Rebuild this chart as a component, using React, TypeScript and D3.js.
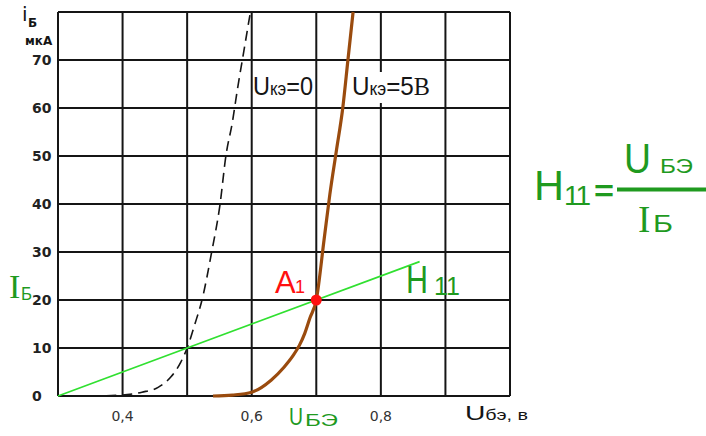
import React from "react";
import * as d3 from "d3";

// Input characteristic of a bipolar transistor: base current vs base-emitter voltage
const uGrid = [0.3, 0.4, 0.5, 0.6, 0.7, 0.8, 0.9, 1.0];
const iGrid = [0, 10, 20, 30, 40, 50, 60, 70, 80];
const iTickValues = [0, 10, 20, 30, 40, 50, 60, 70];
const uTickValues = [0.4, 0.6, 0.8];
const uTickLabels = ["0,4", "0,6", "0,8"];

// Uкэ = 0 (dashed curve)
const u0 = [0.35, 0.4, 0.43, 0.455, 0.475, 0.49, 0.5, 0.512, 0.523, 0.538, 0.551, 0.56, 0.57, 0.578, 0.588, 0.598];
const i0 = [0, 0.2, 0.8, 1.8, 4, 7, 10, 15, 20, 30, 40, 50, 57, 64, 72, 80];

// Uкэ = 5 В (brown curve)
const u5 = [0.54, 0.57, 0.6, 0.63, 0.65, 0.664, 0.674, 0.682, 0.69, 0.7, 0.712, 0.721, 0.731, 0.741, 0.749, 0.757];
const i5 = [0, 0.2, 0.8, 3.3, 6, 8.4, 10.6, 13, 16.2, 20, 32.5, 42, 51, 60, 70, 80];

// H11 secant through the operating point
const uH = [0.3, 0.86];
const iH = [0, 28];

// Operating point A1
const pointA = { u: 0.7, i: 20 };

const W = 706;
const H = 436;
const SANS = "'Liberation Sans', Arial, sans-serif";
const SERIF = "'Liberation Serif', 'Times New Roman', serif";
const DEJAVU = "'DejaVu Sans', sans-serif";
const GREEN_TEXT = "#1f9a1f";
const GREEN_LINE = "#30e030";
const BROWN = "#9a4b0e";
const INK = "#151515";

export default function App() {
  const x = d3.scaleLinear().domain([0.3, 1.0]).range([58, 510]);
  const y = d3.scaleLinear().domain([0, 80]).range([396, 12]);

  const line = d3
    .line<[number, number]>()
    .x((d) => x(d[0]))
    .y((d) => y(d[1]))
    .curve(d3.curveMonotoneX);
  const straight = d3
    .line<[number, number]>()
    .x((d) => x(d[0]))
    .y((d) => y(d[1]));

  const dashedPath = line(u0.map((u, k) => [u, i0[k]] as [number, number])) || "";
  const brownPath = line(u5.map((u, k) => [u, i5[k]] as [number, number])) || "";
  const hPath = straight(uH.map((u, k) => [u, iH[k]] as [number, number])) || "";

  return (
    <svg
      width={W}
      height={H}
      viewBox={`0 0 ${W} ${H}`}
      style={{ position: "absolute", left: 0, top: 0, background: "#fff" }}
    >
      <rect x={0} y={0} width={W} height={H} fill="#fff" />

      {/* grid */}
      <g stroke={INK} strokeWidth={2}>
        {uGrid.map((u) => (
          <line key={"v" + u} x1={x(u)} x2={x(u)} y1={y(0)} y2={y(80)} />
        ))}
        {iGrid.map((v) => (
          <line key={"h" + v} x1={x(0.3)} x2={x(1.0)} y1={y(v)} y2={y(v)} />
        ))}
      </g>

      {/* label backing for Uкэ=5В */}
      <rect x={350} y={72} width={83} height={31} fill="#fff" />

      {/* curves */}
      <path d={dashedPath} fill="none" stroke={INK} strokeWidth={1.6} strokeDasharray="10,6" />
      <path d={hPath} fill="none" stroke={GREEN_LINE} strokeWidth={1.7} />
      <path d={brownPath} fill="none" stroke={BROWN} strokeWidth={3.2} strokeLinejoin="round" />
      <circle cx={x(pointA.u)} cy={y(pointA.i)} r={5.5} fill="#ff1010" />

      {/* y tick labels */}
      <g fontFamily={DEJAVU} fontWeight="bold" fontSize={14} fill="#222">
        {iTickValues.map((v) => (
          <text key={"yt" + v} x={32} y={y(v)} dy="0.36em">
            {v}
          </text>
        ))}
      </g>

      {/* x tick labels */}
      <g fontFamily={DEJAVU} fontSize={14} fill="#333" textAnchor="middle">
        {uTickValues.map((u, k) => (
          <text key={"xt" + u} x={x(u)} y={421}>
            {uTickLabels[k]}
          </text>
        ))}
      </g>

      {/* axis titles */}
      <text x={22} y={21} fontFamily={DEJAVU} fontSize={20} fill={INK}>
        i
      </text>
      <text x={28} y={27} fontFamily={DEJAVU} fontWeight="bold" fontSize={12} fill={INK}>
        Б
      </text>
      <text x={25} y={45} fontFamily={DEJAVU} fontWeight="bold" fontSize={12} fill={INK}>
        мкА
      </text>
      <text x={465} y={420} fontFamily={SANS} fill={INK} textLength={63} lengthAdjust="spacingAndGlyphs">
        <tspan fontSize={20}>U</tspan>
        <tspan fontSize={14}>бэ,  в</tspan>
      </text>

      {/* curve labels */}
      <text x={253} y={95} fontFamily={SANS} fill={INK} textLength={60} lengthAdjust="spacingAndGlyphs">
        <tspan fontSize={25}>U</tspan>
        <tspan fontSize={18}>кэ</tspan>
        <tspan fontSize={25}>=0</tspan>
      </text>
      <text x={352} y={95} fontFamily={SANS} fill={INK} textLength={78} lengthAdjust="spacingAndGlyphs">
        <tspan fontSize={25}>U</tspan>
        <tspan fontSize={18}>кэ</tspan>
        <tspan fontSize={25}>=5</tspan>
        <tspan fontSize={25} fontFamily={SERIF}>В</tspan>
      </text>

      {/* operating point label */}
      <text x={275} y={293} fontFamily={SANS} fontSize={31} fill="#ff1010">
        A
      </text>
      <text x={295} y={293} fontFamily={SANS} fontSize={18} fill="#ff1010">
        1
      </text>

      {/* H11 near the secant */}
      <text x={406} y={293} fontFamily={SANS} fontSize={38} fill={GREEN_TEXT} textLength={22} lengthAdjust="spacingAndGlyphs">
        H
      </text>
      <text x={434} y={295} fontFamily={SANS} fontSize={25} fill={GREEN_TEXT}>
        11
      </text>

      {/* green axis markers */}
      <text x={9} y={298} fontFamily={SERIF} fontSize={34} fill={GREEN_TEXT}>
        I
      </text>
      <text x={21} y={300} fontFamily={SANS} fontSize={18} fill={GREEN_TEXT} textLength={11} lengthAdjust="spacingAndGlyphs">
        Б
      </text>
      <text x={289} y={425} fontFamily={SANS} fontSize={24} fill={GREEN_TEXT} textLength={14} lengthAdjust="spacingAndGlyphs">
        U
      </text>
      <text x={305} y={426} fontFamily={SANS} fontSize={17} fill={GREEN_TEXT} textLength={33} lengthAdjust="spacingAndGlyphs">
        БЭ
      </text>

      {/* formula H11 = UБЭ / IБ */}
      <text x={534} y={200} fontFamily={SANS} fontSize={42} fill={GREEN_TEXT} textLength={30} lengthAdjust="spacingAndGlyphs">
        H
      </text>
      <text x={564} y={205} fontFamily={SANS} fontSize={28} fill={GREEN_TEXT} letterSpacing={-2}>
        11
      </text>
      <text x={594} y={201} fontFamily={SANS} fontSize={30} fontWeight="bold" fill={GREEN_TEXT} textLength={20} lengthAdjust="spacingAndGlyphs">
        =
      </text>
      <line x1={617} x2={706} y1={189.5} y2={189.5} stroke={GREEN_TEXT} strokeWidth={4} />
      <text x={624} y={173} fontFamily={SANS} fontSize={42} fill={GREEN_TEXT} textLength={27} lengthAdjust="spacingAndGlyphs">
        U
      </text>
      <text x={660} y={173} fontFamily={SANS} fontSize={21} fill={GREEN_TEXT} textLength={33} lengthAdjust="spacingAndGlyphs">
        БЭ
      </text>
      <text x={638} y={232} fontFamily={SERIF} fontSize={37} fill={GREEN_TEXT}>
        I
      </text>
      <text x={653} y={232} fontFamily={SANS} fontSize={23} fill={GREEN_TEXT} textLength={20} lengthAdjust="spacingAndGlyphs">
        Б
      </text>
    </svg>
  );
}
